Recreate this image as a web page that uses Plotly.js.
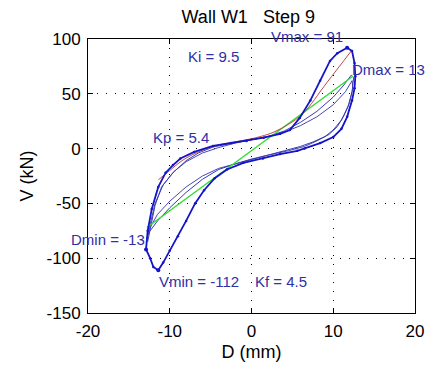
<!DOCTYPE html>
<html>
<head>
<meta charset="utf-8">
<script src="https://cdn.plot.ly/plotly-3.0.1.min.js"></script>
<style>html,body{margin:0;padding:0;background:#fff;}#chart{width:428px;height:369px;}</style>
</head>
<body>
<div id="chart"></div>
<script>
// Cycle 1 (outer loop): displacement D (mm) and shear V (kN)
const D1 = [-12.9,-12.7,-12.2,-11.4,-10.5,-9.6,-8.7,-7,-4.7,-2.5,-0.6,1.5,3.5,4.7,5.9,7.2,8.4,9.6,10.5,11.7,12.3,12.6,12.7,12.6,12.3,11.7,11,10,8.4,6.5,5.6,3.5,1.4,-1,-3,-4.5,-5.8,-6.9,-8,-9,-10,-10.8,-11.4,-12,-12.4,-12.9];
const V1 = [-92,-75,-55,-35,-22,-15,-9,-3,2.4,5,7,10,13.5,17,28,44,62,80,87,92,89,78,66,55,44,29,18,10.5,5,0,-2,-5,-9,-13,-19,-27,-38,-50,-66,-80,-93,-104,-111,-108,-100,-92];
// Cycle 2
const D2 = [-12.7,-12.3,-11.8,-11,-9.6,-8,-6.5,-4.7,-2,0,2,4,6,8,10,11.3,12.2,12.5,12.3,11.8,11,10,9,7.5,6,4,2,0,-2,-4,-6,-8,-10,-11.5,-12.5,-12.8];
const V2 = [-85,-70,-52,-35,-22,-11,-4,1.5,5.5,8,11,16,24,34,47,58,67,65,52,38,26,17,11,6,2,-2,-6,-10,-14,-19,-28,-40,-54,-66,-76,-82];
// Cycle 3
const D3 = [-12.8,-12.4,-11.8,-10.8,-9.5,-8,-6,-4,-2,0,2,4,6,8,10,11.5,12.3,12.4,12,11.3,10.5,9.5,8,6.5,4.5,2,0,-2,-4,-6,-8,-10,-11.5,-12.4,-12.6];
const V3 = [-82,-68,-50,-33,-21,-12,-4,1,5,8,11,15,21,29,40,52,62,55,42,30,20,13,7,2,-2,-6,-9.5,-14,-18,-25,-35,-48,-60,-72,-78];
// Red fitted curve (Kp)
const Dred = [-11.4,-10,-8.5,-6.5,-4.7,-2.5,0,2,3,4.5,6.3,9.2,12.3];
const Vred = [-28.5,-20,-11,-3,2,5.5,9,13,16,22,32,60,90];
// Green secant line (Kf)
const Dgreen = [-12.8,12.4];
const Vgreen = [-72,66];
// Peak points
const Dpk = [11.7,-11.4,-12.9];
const Vpk = [92,-111,-92];
// Labels
const labTexts = ['Vmax = 91','Ki = 9.5','Dmax = 13','Kp = 5.4','Dmin = -13','Vmin = -112','Kf = 4.5'];
const labD = [6.8,-4.6,16.7,-8.6,-17.55,-6.4,3.6];
const labV = [100,84,72.6,9.7,-82.5,-120.8,-120.8];
const labShift = [3,0,0,0,0,0,0];

const xTicks = [-20,-10,0,10,20];
const yTicks = [-150,-100,-50,0,50,100];

const FONT = 'Liberation Sans, Arial, sans-serif';
const txtBlue = '#2f2fa6';

const traces = [
  {x:D3,y:V3,mode:'lines',line:{color:'#4848b0',width:1},hoverinfo:'skip'},
  {x:D2,y:V2,mode:'lines',line:{color:'#3a3ab4',width:1},hoverinfo:'skip'},
  {x:Dgreen,y:Vgreen,mode:'lines',line:{color:'#33dd33',width:1.5},hoverinfo:'skip'},
  {x:Dred,y:Vred,mode:'lines',line:{color:'#c04848',width:1,shape:'spline'},hoverinfo:'skip'},
  {x:D1,y:V1,mode:'lines+markers',line:{color:'#1414c8',width:1.8},marker:{size:2.5,color:'#1414c8'},hoverinfo:'skip'},
  {x:Dpk,y:Vpk,mode:'markers',marker:{size:4,color:'#1414c8'},hoverinfo:'skip'}
];

const annotations = labTexts.map((t,i)=>({
  x:labD[i], y:labV[i], xref:'x', yref:'y', text:t, showarrow:false, yshift:labShift[i],
  font:{family:FONT,size:15,color:txtBlue}, xanchor:'center', yanchor:'middle'
}));

const axisCommon = {
  showline:true, linecolor:'#000', linewidth:1, mirror:'ticks',
  ticks:'inside', ticklen:5, tickcolor:'#000', tickwidth:1,
  showgrid:true, gridcolor:'#000', gridwidth:1, griddash:'1px,8px',
  zeroline:false, tickfont:{family:FONT,size:17,color:'#000'},
  fixedrange:true
};

const layout = {
  width:428, height:369,
  margin:{l:88,r:13,t:39,b:56},
  paper_bgcolor:'#fff', plot_bgcolor:'#fff',
  showlegend:false,
  title:{text:'Wall W1   Step 9', font:{family:FONT,size:18,color:'#000'}, x:0.58, xanchor:'center', y:0.955, yanchor:'middle'},
  xaxis:Object.assign({}, axisCommon, {range:[-20,20], tickvals:xTicks, ticktext:xTicks.map(String), ticklabelstandoff:3,
    title:{text:'D (mm)', font:{family:FONT,size:18,color:'#000'}, standoff:4}}),
  yaxis:Object.assign({}, axisCommon, {range:[-150,100], tickvals:yTicks, ticktext:yTicks.map(String), ticklabelstandoff:3,
    title:{text:'V (kN)', font:{family:FONT,size:18,color:'#000'}, standoff:8}}),
  annotations:annotations
};

Plotly.newPlot('chart', traces, layout, {displayModeBar:false, staticPlot:true});
</script>
</body>
</html>
